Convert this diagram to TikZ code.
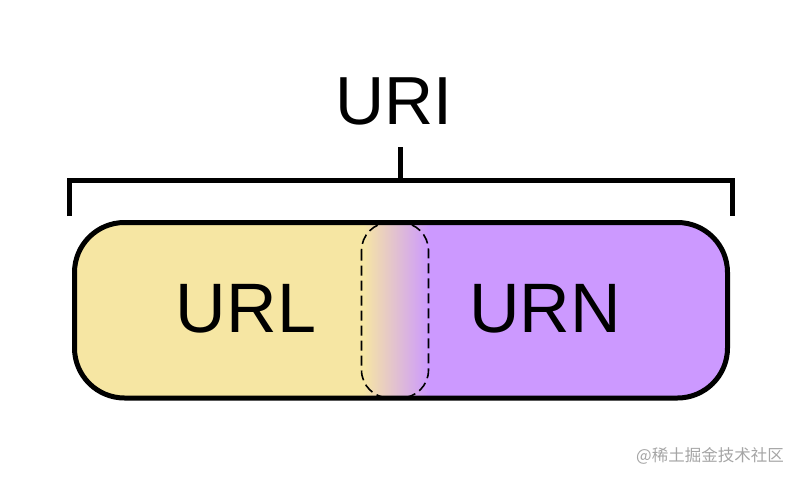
\documentclass[tikz,border=0pt]{standalone}
\usepackage{fontspec}
\setmainfont{Liberation Sans}
\newfontfamily\cjk{Noto Sans CJK SC}
\definecolor{urlyellow}{RGB}{246,230,163}
\definecolor{urnpurple}{RGB}{204,153,255}
\definecolor{wmgray}{RGB}{165,165,165}
\tikzset{
  bracket/.style={line width=5pt, line cap=butt},
  outline/.style={line width=5pt, rounded corners=50pt},
  bigtext/.style={font=\fontsize{70}{84}\selectfont, anchor=base, inner sep=0pt},
}
\begin{document}
\begin{tikzpicture}[x=1pt,y=-1pt]
\useasboundingbox (0,0) rectangle (800,482);
% bracket
\coordinate (bl) at (69.5,216);
\coordinate (br) at (732.5,216);
\coordinate (tl) at (69.5,180);
\coordinate (tr) at (732.5,180);
\coordinate (tm) at (400,180);
\coordinate (tt) at (400,147);
\draw[bracket] (bl) -- (tl) -- (tr) -- (br);
\draw[bracket] (tm) -- (tt);
% main bar
\begin{scope}
\clip[rounded corners=50pt] (74.5,222.5) rectangle (727.5,398);
\fill[urlyellow] (74,222) rectangle (364,398);
\fill[urnpurple] (428,222) rectangle (728,398);
\shade[left color=urlyellow, right color=urnpurple] (363,222) rectangle (429,398);
\end{scope}
\draw[outline] (74.5,222.5) rectangle (727.5,398);
\draw[line width=1.6pt, dash pattern=on 10pt off 5pt, rounded corners=28pt] (361.5,222.5) rectangle (428.5,398);
% texts
\node[bigtext, font=\fontsize{68}{80}\selectfont] (uri) at (394,124) {URI};
\node[bigtext] (url) at (246,332) {URL};
\node[bigtext] (urn) at (545,332) {URN};
\node[anchor=east, inner sep=0pt, text=wmgray, font=\cjk\fontsize{16.5}{20}\selectfont] (wm) at (784,456) {@稀土掘金技术社区};
\end{tikzpicture}
\end{document}
